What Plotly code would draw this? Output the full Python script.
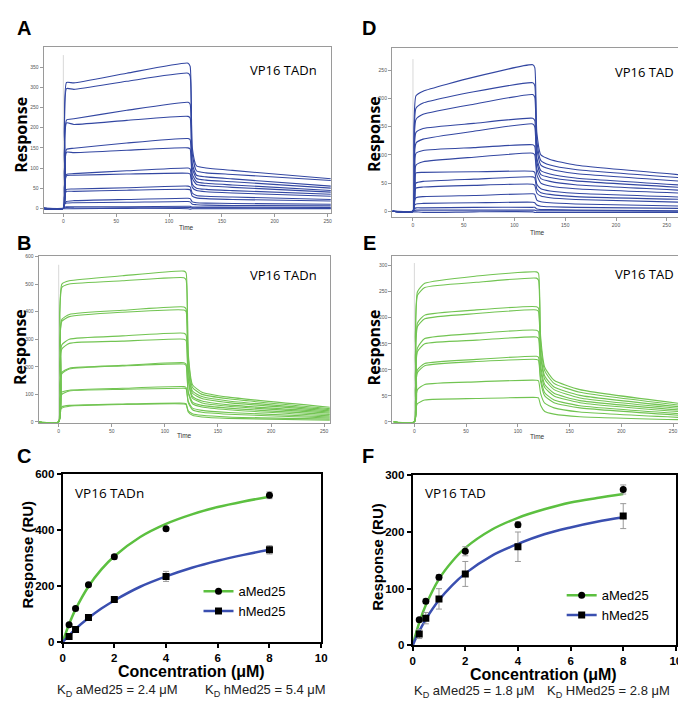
import plotly.graph_objects as go

# ---------------- data ----------------
# sensorgram sample times (s); last element replaced by per-panel end time
TIMES = [-20, 0, 1, 3, 10, 60, 118, 120, 122, 126, 135, 160]
END_A, END_D, END_B, END_E = 254, 268, 256, 262

A_CURVES = [
    [0, 0, 200, 312, 311, 335, 360, 352, 150, 105, 100, 94, 73],
    [0, 0, 190, 297, 295, 315, 335, 328, 135, 93, 88, 84, 69],
    [0, 0, 140, 219, 222, 243, 263, 258, 110, 82, 78, 73, 55],
    [0, 0, 135, 212, 208, 218, 228, 224, 100, 74, 70, 66, 50],
    [0, 0, 95, 146, 149, 162, 173, 170, 85, 66, 62, 58, 44],
    [0, 0, 90, 139, 138, 144, 150, 147, 75, 59, 56, 52, 40],
    [0, 0, 55, 84, 86, 93, 100, 98, 60, 50, 47, 44, 35],
    [0, 0, 52, 81, 82, 85, 87, 85, 52, 44, 41, 38, 30],
    [0, 0, 30, 47, 48, 51, 55, 53, 38, 32, 30, 28, 22],
    [0, 0, 27, 42, 42, 45, 47, 46, 30, 26, 24, 22, 18],
    [0, 0, 11, 17, 19, 22, 25, 24, 16, 14, 13, 12, 10],
    [0, 0, 9, 13, 14, 15, 17, 16, 10, 9, 8, 7, 6],
    [0, 0, 3, 4, 4, 4, 5, 5, 3, 3, 3, 3, 2],
    [0, 0, 1, 2, 1, 1, 2, 2, 1, 1, 1, 1, 0],
    [0, -1, -1, -1, -1, 0, -1, -2, -1, -1, -1, -1, -1],
]
D_CURVES = [
    [0, 0, 150, 205, 213, 238, 260, 255, 140, 100, 92, 82, 64],
    [0, 0, 130, 183, 192, 212, 228, 223, 125, 90, 82, 74, 59],
    [0, 0, 115, 163, 172, 190, 207, 202, 112, 82, 75, 67, 53],
    [0, 0, 100, 140, 147, 156, 165, 161, 95, 72, 66, 59, 46],
    [0, 0, 85, 121, 128, 142, 155, 150, 88, 65, 60, 54, 42],
    [0, 0, 72, 103, 108, 113, 118, 115, 75, 58, 53, 47, 37],
    [0, 0, 58, 82, 88, 96, 103, 100, 65, 50, 45, 40, 32],
    [0, 0, 48, 68, 69, 70, 71, 69, 48, 40, 36, 32, 25],
    [0, 0, 35, 50, 53, 57, 61, 59, 40, 33, 30, 26, 21],
    [0, 0, 28, 41, 43, 46, 48, 46, 32, 27, 24, 21, 16],
    [0, 0, 16, 24, 26, 28, 31, 30, 20, 17, 15, 13, 9],
    [0, 0, 9, 13, 14, 15, 16, 15, 11, 9, 8, 7, 5],
    [0, 0, 4, 6, 6, 7, 7, 7, 4, 3, 3, 2, 1],
    [0, 0, 1, 2, 2, 2, 2, 2, 1, 1, 1, 1, 0],
    [0, -1, -1, -1, -2, -1, -1, -2, -2, -2, -2, -2, -2],
]
B_CURVES = [
    [0, 0, 400, 500, 512, 530, 547, 540, 250, 135, 108, 90, 53],
    [0, 0, 390, 488, 500, 512, 523, 515, 235, 125, 100, 84, 48],
    [0, 0, 300, 372, 390, 405, 417, 410, 200, 112, 92, 76, 44],
    [0, 0, 290, 365, 382, 398, 406, 400, 190, 104, 85, 70, 40],
    [0, 0, 220, 280, 300, 312, 322, 315, 160, 93, 76, 62, 36],
    [0, 0, 210, 265, 285, 293, 300, 295, 150, 86, 69, 57, 32],
    [0, 0, 140, 180, 195, 205, 215, 210, 110, 72, 60, 50, 27],
    [0, 0, 135, 175, 192, 203, 210, 205, 105, 66, 54, 44, 22],
    [0, 0, 85, 108, 115, 122, 128, 125, 75, 50, 42, 34, 18],
    [0, 0, 80, 100, 112, 118, 122, 120, 70, 44, 35, 28, 14],
    [0, 0, 42, 55, 60, 65, 68, 66, 40, 30, 24, 18, 10],
    [0, 0, 40, 50, 57, 63, 65, 63, 36, 24, 18, 13, 6],
]
E_CURVES = [
    [0, 0, 170, 250, 266, 280, 288, 285, 165, 105, 80, 62, 34],
    [0, 0, 165, 243, 258, 268, 276, 272, 155, 98, 74, 57, 31],
    [0, 0, 130, 190, 205, 215, 221, 218, 135, 88, 67, 51, 28],
    [0, 0, 125, 183, 198, 208, 215, 212, 128, 82, 62, 46, 25],
    [0, 0, 95, 142, 160, 170, 176, 173, 110, 72, 55, 41, 22],
    [0, 0, 90, 135, 150, 157, 163, 160, 100, 66, 50, 37, 19],
    [0, 0, 65, 100, 112, 120, 126, 124, 85, 56, 42, 31, 15],
    [0, 0, 62, 95, 108, 116, 120, 118, 78, 50, 37, 27, 12],
    [0, 0, 40, 62, 72, 77, 80, 79, 55, 36, 27, 19, 8],
    [0, 0, 22, 35, 42, 45, 47, 46, 32, 20, 15, 10, 4],
]

# binding isotherms
CONC = [0.25, 0.5, 1, 2, 4, 8]
C_A_RESP = [62, 120, 205, 305, 405, 525]
C_A_ERR = [4, 5, 5, 8, 6, 12]
C_H_RESP = [20, 45, 88, 152, 235, 330]
C_H_ERR = [4, 5, 6, 8, 18, 15]
F_A_RESP = [45, 78, 120, 166, 213, 275]
F_A_ERR = [3, 4, 5, 8, 5, 8]
F_H_RESP = [20, 48, 82, 126, 174, 228]
F_H_ERR = [8, 10, 18, 22, 26, 22]

FIT_X = [0, 0.25, 0.5, 1, 1.5, 2, 3, 4, 5, 6, 7, 8]
C_A_FIT = [0, 64, 117, 199, 260, 307, 376, 423, 457, 483, 503, 520]
C_H_FIT = [0, 24, 47, 86, 120, 149, 198, 235, 266, 291, 312, 330]
F_A_FIT = [0, 40, 71, 117, 148, 172, 204, 225, 240, 252, 260, 267]
F_H_FIT = [0, 25, 46, 80, 106, 127, 158, 179, 196, 208, 218, 226]

BLUE = "#3347a2"
GREEN = "#72c452"
FIT_GREEN = "#5cc040"
FIT_BLUE = "#3a4fb0"

W, H = 686, 705


def px(x):
    return x / W


def py(y):
    return 1 - y / H


fig = go.Figure()

sensor_panels = [
    ("", "", A_CURVES, END_A, BLUE),
    ("2", "2", D_CURVES, END_D, BLUE),
    ("3", "3", B_CURVES, END_B, GREEN),
    ("4", "4", E_CURVES, END_E, GREEN),
]
for xs, ys, curves, end, col in sensor_panels:
    t = TIMES + [end]
    for c in curves:
        fig.add_trace(go.Scatter(
            x=t, y=c, mode="lines", xaxis="x" + xs, yaxis="y" + ys,
            line=dict(color=col, width=1.1, shape="spline", smoothing=0.5),
            showlegend=False, hoverinfo="skip"))

# isotherm panels
iso = [
    ("5", C_A_RESP, C_A_ERR, C_H_RESP, C_H_ERR, C_A_FIT, C_H_FIT, "legend"),
    ("6", F_A_RESP, F_A_ERR, F_H_RESP, F_H_ERR, F_A_FIT, F_H_FIT, "legend2"),
]
for n, ar, ae, hr, he, af, hf, lg in iso:
    xa, ya = "x" + n, "y" + n
    fig.add_trace(go.Scatter(x=FIT_X, y=af, mode="lines", xaxis=xa, yaxis=ya,
                             line=dict(color=FIT_GREEN, width=2.5, shape="spline"),
                             showlegend=False, hoverinfo="skip"))
    fig.add_trace(go.Scatter(x=FIT_X, y=hf, mode="lines", xaxis=xa, yaxis=ya,
                             line=dict(color=FIT_BLUE, width=2.5, shape="spline"),
                             showlegend=False, hoverinfo="skip"))
    fig.add_trace(go.Scatter(x=CONC, y=ar, mode="markers", xaxis=xa, yaxis=ya,
                             marker=dict(symbol="circle", size=7, color="black"),
                             error_y=dict(type="data", array=ae, color="#999999",
                                          thickness=1, width=3),
                             showlegend=False, hoverinfo="skip"))
    fig.add_trace(go.Scatter(x=CONC, y=hr, mode="markers", xaxis=xa, yaxis=ya,
                             marker=dict(symbol="square", size=7, color="black"),
                             error_y=dict(type="data", array=he, color="#999999",
                                          thickness=1, width=3),
                             showlegend=False, hoverinfo="skip"))
    # legend entries
    fig.add_trace(go.Scatter(x=[None], y=[None], mode="lines+markers", xaxis=xa, yaxis=ya,
                             name="aMed25", legend=lg,
                             line=dict(color=FIT_GREEN, width=2.5),
                             marker=dict(symbol="circle", size=7, color="black")))
    fig.add_trace(go.Scatter(x=[None], y=[None], mode="lines+markers", xaxis=xa, yaxis=ya,
                             name="hMed25", legend=lg,
                             line=dict(color=FIT_BLUE, width=2.5),
                             marker=dict(symbol="square", size=7, color="black")))

small_tick = dict(size=5, color="#555555", family="Liberation Sans")


def sens_axes(xd, yd, xr, yr, ydtick):
    xa = dict(domain=xd, range=xr, tick0=0, dtick=50, showgrid=False, zeroline=False,
              showline=True, linecolor="#9a9a9a", linewidth=1, mirror=True,
              ticks="outside", ticklen=3, tickcolor="#9a9a9a", tickfont=small_tick)
    ya = dict(domain=yd, range=yr, tick0=0, dtick=ydtick, showgrid=False, zeroline=False,
              showline=True, linecolor="#9a9a9a", linewidth=1, mirror=True,
              ticks="outside", ticklen=3, tickcolor="#9a9a9a", tickfont=small_tick)
    return xa, ya


big_tick = dict(size=11.5, color="black", family="Liberation Sans")


def iso_axes(xd, yd, yr, ydtick):
    xa = dict(domain=xd, range=[0, 10], tick0=0, dtick=2, showgrid=False, zeroline=False,
              showline=True, linecolor="black", linewidth=2, mirror=True,
              ticks="outside", ticklen=4, tickwidth=2, tickcolor="black",
              tickfont=big_tick, tickprefix="<b>", ticksuffix="</b>")
    ya = dict(domain=yd, range=yr, tick0=0, dtick=ydtick, showgrid=False, zeroline=False,
              showline=True, linecolor="black", linewidth=2, mirror=True,
              ticks="outside", ticklen=4, tickwidth=2, tickcolor="black",
              tickfont=big_tick, tickprefix="<b>", ticksuffix="</b>")
    return xa, ya


xA, yA = sens_axes([px(33), px(324)], [py(202), py(34)], [-18.7, 253], [-10.5, 399], 50)
xD, yD = sens_axes([px(386), px(683)], [py(207), py(35)], [-20.7, 268], [-11, 289], 50)
xB, yB = sens_axes([px(28), px(323)], [py(415.7), py(245.7)], [-18.9, 255.3], [-2.5, 603.6], 100)
xE, yE = sens_axes([px(386.3), px(683)], [py(415.7), py(245.7)], [-21.4, 261.6], [-1.3, 319.4], 50)
xC, yC = iso_axes([px(52.3), px(314.3)], [py(639), py(468.3)], [0, 600], 200)
xF, yF = iso_axes([px(407), px(673.7)], [py(642.3), py(469.3)], [0, 300], 100)

for k, a in [("2", xD), ("3", xB), ("4", xE), ("5", xC), ("6", xF)]:
    a["anchor"] = "y" + k
for k, a in [("2", yD), ("3", yB), ("4", yE), ("5", yC), ("6", yF)]:
    a["anchor"] = "x" + k
xA["anchor"] = "y"
yA["anchor"] = "x"

annotations = []


def txt(x, y, text, size, bold=False, family="Liberation Sans", xanchor="center",
        angle=0, color="black"):
    annotations.append(dict(
        x=px(x), y=py(y), xref="paper", yref="paper", text=("<b>%s</b>" % text) if bold else text,
        showarrow=False, xanchor=xanchor, yanchor="middle", textangle=angle,
        font=dict(size=size, family=family, color=color)))


# panel letters
for L, x, y in [("A", 13, 14), ("D", 363, 14), ("B", 13, 233), ("E", 363, 233),
                ("C", 13, 450), ("F", 362, 450)]:
    txt(x, y, L, 20, bold=True)

# sensorgram labels
for x, y in [(10, 123), (368, 122), (9, 339), (368, 339)]:
    txt(x, y, "Response", 16, bold=True, family="Open Sans", angle=-90)
txt(178, 217, "Time", 6.5, color="#333333")
txt(534, 222, "Time", 6.5, color="#333333")
txt(176, 429, "Time", 6.5, color="#333333")
txt(534, 430, "Time", 6.5, color="#333333")
txt(240, 57, "VP16 TADn", 13, family="Open Sans", xanchor="left")
txt(240, 266, "VP16 TADn", 13, family="Open Sans", xanchor="left")
txt(610, 59, "VP16 TAD", 13, family="Open Sans", xanchor="left")
txt(610, 265, "VP16 TAD", 13, family="Open Sans", xanchor="left")

# isotherm labels
txt(63, 487, "VP16 TADn", 13.5, family="Open Sans", xanchor="left")
txt(417, 487, "VP16 TAD", 13.5, family="Open Sans", xanchor="left")
txt(17, 550, "Response (RU)", 15, bold=True, angle=-90)
txt(371, 552, "Response (RU)", 15, bold=True, angle=-90)
txt(183, 669, "Concentration (μM)", 16, bold=True)
txt(540, 671.5, "Concentration (μM)", 16, bold=True)
txt(45, 688, "K<sub>D</sub> aMed25 = 2.4 μM", 13, xanchor="left", color="#222222")
txt(195, 688, "K<sub>D</sub> hMed25 = 5.4 μM", 13, xanchor="left", color="#222222")
txt(406, 689, "K<sub>D</sub> aMed25 = 1.8 μM", 13, xanchor="left", color="#222222")
txt(541, 689, "K<sub>D</sub> HMed25 = 2.8 μM", 13, xanchor="left", color="#222222")

shapes = []
# faint injection marker lines at t=0
for xr, yr, top in [("x", "y", 380), ("x2", "y2", 270), ("x3", "y3", 570), ("x4", "y4", 305)]:
    shapes.append(dict(type="line", xref=xr, yref=yr, x0=0, x1=0, y0=0, y1=top,
                       line=dict(color="#d8d8d8", width=1), layer="below"))

leg_common = dict(font=dict(size=13, family="Liberation Sans", color="black"),
                  bgcolor="rgba(0,0,0,0)", itemwidth=30, tracegroupgap=0,
                  xanchor="left", yanchor="top", borderwidth=0)

fig.update_layout(
    width=W, height=H, margin=dict(l=0, r=0, t=0, b=0),
    paper_bgcolor="white", plot_bgcolor="white",
    xaxis=xA, yaxis=yA, xaxis2=xD, yaxis2=yD, xaxis3=xB, yaxis3=yB,
    xaxis4=xE, yaxis4=yE, xaxis5=xC, yaxis5=yC, xaxis6=xF, yaxis6=yF,
    annotations=annotations, shapes=shapes,
    legend=dict(x=px(190), y=py(572), **leg_common),
    legend2=dict(x=px(558), y=py(576), **leg_common),
)

fig.write_html("out.html")
